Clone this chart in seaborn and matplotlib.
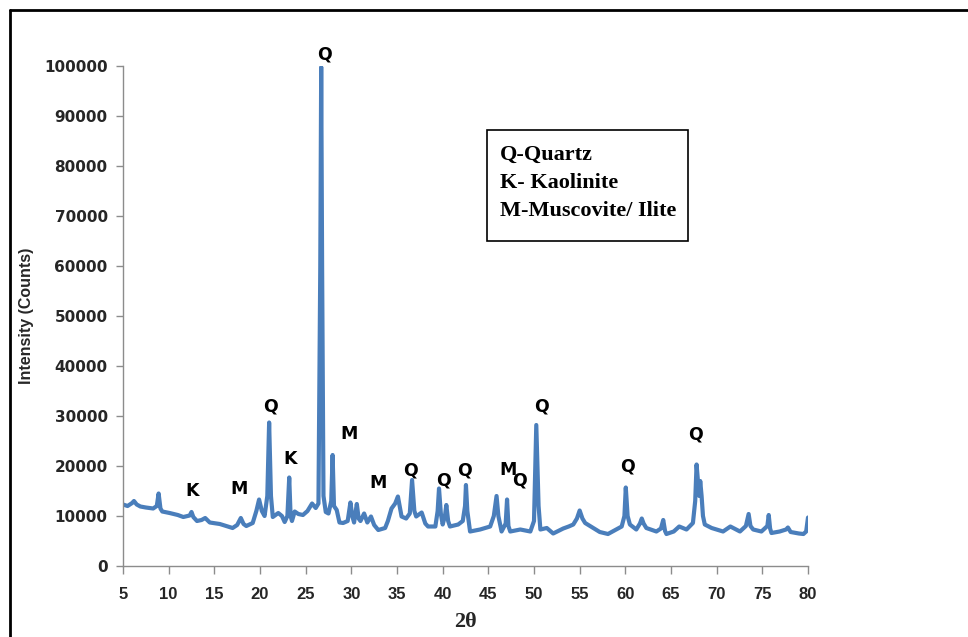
import matplotlib
matplotlib.use("Agg")
import matplotlib.pyplot as plt
import seaborn as sns
import pandas as pd
from matplotlib.lines import Line2D
from matplotlib.patches import Rectangle

two_theta = [5.0, 5.5, 6.0, 6.2, 6.5, 6.9, 7.5, 8.3, 8.7, 8.9, 9.1, 9.3, 10.1, 11.0, 11.6,
             12.3, 12.5, 12.7, 13.1, 13.6, 14.0, 14.5, 15.6, 16.3, 17.0, 17.5, 17.9, 18.2,
             18.5, 19.2, 19.6, 19.9, 20.2, 20.5, 20.8, 21.0, 21.2, 21.4, 22.0, 22.4, 22.7,
             23.0, 23.2, 23.35, 23.5, 23.8, 24.2, 24.7, 25.2, 25.7, 26.1, 26.4, 26.6, 26.7,
             26.8, 26.95, 27.2, 27.5, 27.8, 27.95, 28.1, 28.4, 28.7, 29.1, 29.6, 29.9, 30.1,
             30.3, 30.6, 30.8, 31.0, 31.4, 31.75, 32.15, 32.5, 32.95, 33.7, 34.0, 34.4, 34.8,
             35.1, 35.5, 36.0, 36.4, 36.65, 36.9, 37.1, 37.7, 38.1, 38.4, 39.2, 39.45, 39.6,
             39.8, 40.0, 40.25, 40.4, 40.6, 40.8, 41.7, 42.2, 42.45, 42.55, 42.7, 43.0, 44.1,
             45.2, 45.6, 45.9, 46.1, 46.45, 46.9, 47.05, 47.2, 47.4, 48.5, 49.6, 50.0, 50.25,
             50.5, 50.7, 51.4, 52.1, 53.2, 53.8, 54.3, 54.7, 55.0, 55.3, 55.6, 56.5, 57.2,
             58.1, 59.0, 59.6, 59.9, 60.05, 60.25, 60.5, 61.2, 61.6, 61.8, 62.0, 62.3, 63.4,
             63.9, 64.15, 64.35, 64.5, 65.3, 65.9, 66.7, 67.4, 67.65, 67.8, 67.95, 68.1, 68.2,
             68.35, 68.5, 68.7, 69.45, 70.7, 71.5, 72.55, 73.2, 73.5, 73.7, 74.0, 74.9, 75.55,
             75.7, 75.85, 76.0, 76.9, 77.6, 77.8, 78.1, 79.0, 79.5, 79.8, 80.0]
counts = [12300, 12000, 12600, 13000, 12300, 11900, 11700, 11500, 12000, 14500, 11500, 10900,
          10600, 10200, 9800, 10100, 10800, 9800, 9000, 9200, 9600, 8700, 8400, 8000, 7600,
          8200, 9600, 8400, 8000, 8600, 11000, 13300, 11000, 10000, 14000, 28700, 14000, 9800,
          10600, 10000, 8800, 10000, 17700, 10000, 9000, 10900, 10400, 10200, 11000, 12500,
          11600, 12500, 60000, 99800, 60000, 14000, 10800, 10500, 13000, 22200, 12000, 11200,
          8700, 8600, 9000, 12700, 10000, 8700, 12400, 9500, 9000, 10500, 8700, 9900, 8200,
          7200, 7600, 9000, 11500, 12500, 13900, 9900, 9500, 10500, 17200, 11000, 9900, 10700,
          8500, 7900, 7900, 11000, 15500, 10500, 8300, 10000, 12200, 9000, 7900, 8300, 9000,
          12000, 16200, 11000, 6900, 7300, 7900, 10000, 14000, 10000, 6900, 8500, 13300, 8000,
          6900, 7300, 6900, 9000, 28200, 12000, 7300, 7600, 6500, 7500, 7900, 8300, 9500,
          11100, 9500, 8600, 7600, 6800, 6400, 7300, 7900, 10000, 15700, 10000, 8300, 7300,
          8500, 9500, 8500, 7600, 6900, 7500, 9200, 7000, 6400, 6900, 7900, 7300, 8600, 13000,
          20300, 17000, 14000, 17000, 14000, 10000, 8300, 7600, 6900, 7900, 6900, 8000, 10400,
          8000, 7300, 6900, 8000, 10200, 7500, 6600, 6900, 7300, 7700, 6800, 6500, 6400, 6900,
          9700]

peak_labels = ["Q", "K", "M", "Q", "K", "M", "M", "Q", "Q", "Q", "M", "Q", "Q", "Q", "Q"]
label_x = [27.1, 12.55, 17.7, 21.1, 23.3, 29.7, 32.9, 36.5, 40.1, 42.4, 47.2, 48.4, 50.8, 60.2, 67.7]
label_y = [102200, 15000, 15400, 32000, 21400, 26400, 16600, 19200, 17200, 19200, 19200, 17000, 32000, 20000, 26400]

legend_lines = ["Q-Quartz", "K- Kaolinite", "M-Muscovite/ Ilite"]
x_ticks = list(range(5, 81, 5))
y_ticks = list(range(0, 100001, 10000))

sns.set_theme(style="white")
plt.rcParams["font.family"] = ["DejaVu Sans"]

df = pd.DataFrame({"two_theta": two_theta, "counts": counts})

W, H = 968, 637
fig = plt.figure(figsize=(W / 100, H / 100), dpi=100)
ax = fig.add_axes([123 / W, (H - 566) / H, (808 - 123) / W, (566 - 66) / H])

sns.lineplot(data=df, x="two_theta", y="counts", ax=ax, color="#4A7EBB", linewidth=3.0,
             sort=False, estimator=None)

ax.set_xlim(5, 80)
ax.set_ylim(0, 100000)
ax.set_xticks(x_ticks)
ax.set_yticks(y_ticks)
ax.set_xticklabels([str(t) for t in x_ticks], fontsize=12, fontweight="bold",
                   family=["Liberation Sans", "DejaVu Sans"])
ax.set_yticklabels([str(t) for t in y_ticks], fontsize=11, fontweight="bold")
ax.tick_params(axis="x", direction="out", length=6, width=1, color="#8c8c8c", pad=9,
               bottom=True)
ax.tick_params(axis="y", direction="out", length=5, width=1, color="#8c8c8c", pad=6, left=True)
for s in ["top", "right"]:
    ax.spines[s].set_visible(False)
for s in ["left", "bottom"]:
    ax.spines[s].set_color("#8c8c8c")
    ax.spines[s].set_linewidth(1)

ax.set_xlabel("2θ", fontsize=16, fontweight="bold", family=["Liberation Serif", "DejaVu Serif"],
              labelpad=7)
ax.set_ylabel("Intensity (Counts)", fontsize=11.5, fontweight="bold", labelpad=7,
              family=["Liberation Sans", "DejaVu Sans"])

for lab, lx, ly in zip(peak_labels, label_x, label_y):
    ax.text(lx, ly, lab, fontsize=12.5, fontweight="bold", ha="center", va="center",
            color="black", clip_on=False)

# legend box
box = Rectangle((487 / W, (H - 241) / H), (688 - 487) / W, (241 - 130) / H,
                transform=fig.transFigure, fill=False, edgecolor="black", linewidth=1.2)
fig.add_artist(box)
for i, t in enumerate(legend_lines):
    fig.text(500 / W, (H - (155 + i * 28)) / H, t, fontsize=16, fontweight="bold",
             family=["Liberation Serif", "DejaVu Serif"], ha="left", va="center", color="black")

# outer frame (top and left edges visible)
fig.add_artist(Line2D([10 / W, 1.0], [(H - 10) / H, (H - 10) / H], transform=fig.transFigure,
                      color="black", linewidth=2))
fig.add_artist(Line2D([10 / W, 10 / W], [0, (H - 10) / H], transform=fig.transFigure,
                      color="black", linewidth=2))

fig.savefig("out.png", dpi=100, facecolor="white")
